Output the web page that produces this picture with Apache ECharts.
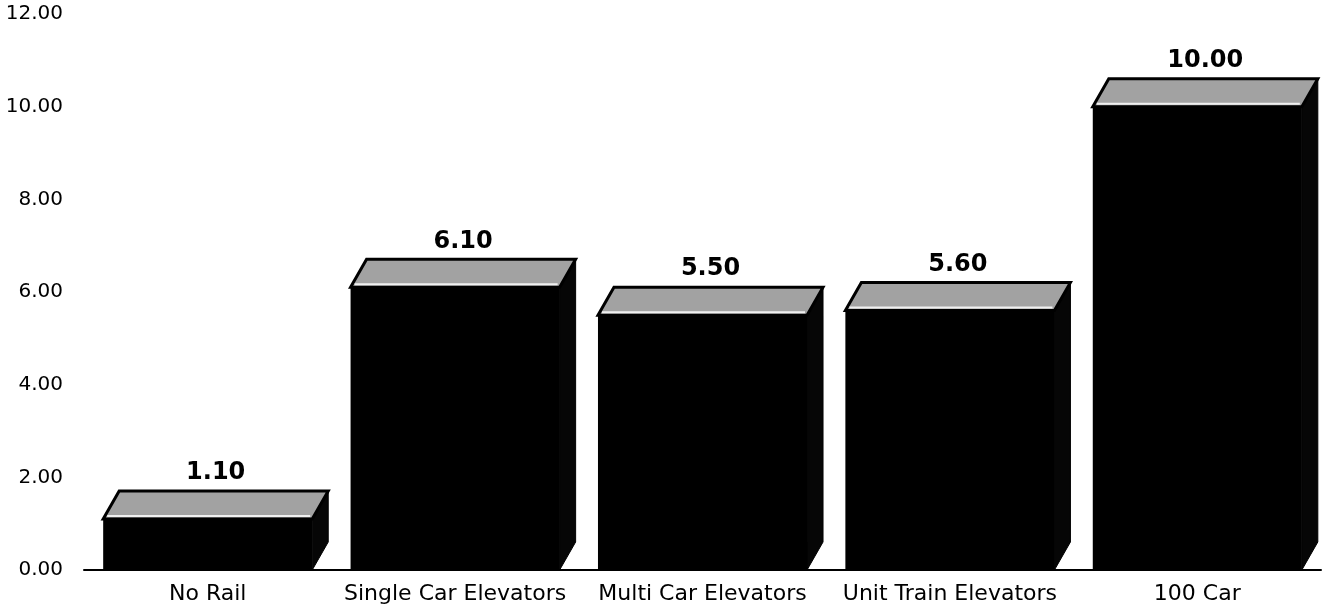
<!DOCTYPE html>
<html>
<head>
<meta charset="utf-8">
<script src="https://cdn.jsdelivr.net/npm/echarts@6/dist/echarts.min.js"></script>
<style>
html,body{margin:0;padding:0;background:#fff;}
#chart{width:1327px;height:611px;}
</style>
</head>
<body>
<div id="chart"></div>
<script>
const categories = ['No Rail', 'Single Car Elevators', 'Multi Car Elevators', 'Unit Train Elevators', '100 Car'];
const values = [1.10, 6.10, 5.50, 5.60, 10.00];
const yMin = 0, yMax = 12, yInterval = 2;

const chart = echarts.init(document.getElementById('chart'));

function renderItem(params, api) {
  const idx = api.value(0);
  const v = api.value(1);
  const top = api.coord([idx, v]);
  const base = api.coord([idx, 0]);
  const w = api.size([1, 0])[0] * 0.845;
  const x0 = top[0] - w / 2, x1 = top[0] + w / 2;
  const yT = top[1], yB = base[1];
  const dx = 16, dy = 28;
  return {
    type: 'group',
    children: [
      { type: 'rect', shape: { x: x0, y: yT, width: w, height: yB - yT }, style: { fill: '#000' } },
      { type: 'polygon', shape: { points: [[x1, yT], [x1 + dx, yT - dy], [x1 + dx, yB - dy], [x1, yB]] }, style: { fill: '#060606', stroke: '#000', lineWidth: 1 } },
      { type: 'polygon', shape: { points: [[x0, yT], [x0 + dx, yT - dy], [x1 + dx, yT - dy], [x1, yT]] }, style: { fill: '#a2a2a2', stroke: '#000', lineWidth: 3 } },
      { type: 'polyline', shape: { points: [[x0 + 4, yT - 3], [x1 - 2, yT - 3]] }, style: { stroke: '#f0f0f0', lineWidth: 2 } },
      { type: 'text', style: { text: v.toFixed(2), x: top[0] + dx / 2, y: yT - dy - 6, textAlign: 'center', textVerticalAlign: 'bottom', fill: '#000', font: 'bold 24px "DejaVu Sans"' } }
    ]
  };
}

chart.setOption({
  animation: false,
  backgroundColor: '#fff',
  grid: { left: 84, right: 6, top: 14, bottom: 41 },
  xAxis: {
    type: 'category',
    data: categories,
    axisLine: { show: true, lineStyle: { color: '#000', width: 2 } },
    axisTick: { show: false },
    axisLabel: { color: '#000', fontFamily: 'DejaVu Sans', fontSize: 22, margin: 13, interval: 0 }
  },
  yAxis: {
    type: 'value',
    min: yMin, max: yMax, interval: yInterval,
    axisLine: { show: false },
    axisTick: { show: false },
    splitLine: { show: false },
    axisLabel: { color: '#000', fontFamily: 'DejaVu Sans', fontSize: 20, margin: 21, formatter: v => v.toFixed(2) }
  },
  series: [{
    type: 'custom',
    renderItem: renderItem,
    clip: false,
    encode: { x: 0, y: 1 },
    data: values.map((v, i) => [i, v])
  }]
});
</script>
</body>
</html>
